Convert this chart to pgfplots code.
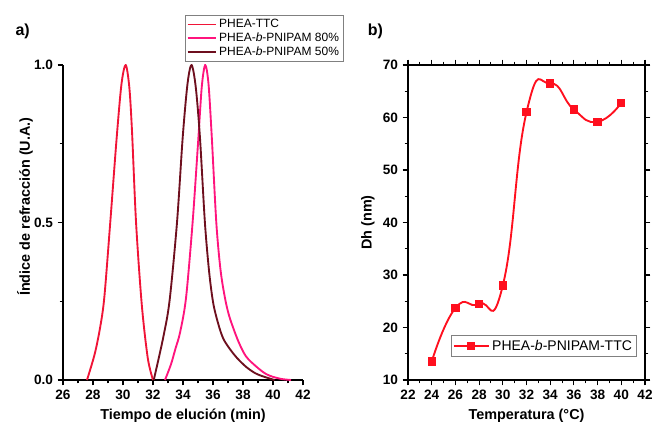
\documentclass[border=0pt]{standalone}
\usepackage{fontspec}
\setmainfont{Liberation Sans}
\usepackage{pgfplots}
\pgfplotsset{compat=1.18}
\definecolor{cttc}{RGB}{240,20,55}
\definecolor{cpe}{RGB}{255,20,125}
\definecolor{cpf}{RGB}{110,15,30}
\definecolor{cred}{RGB}{255,15,30}
\begin{document}
\begin{tikzpicture}
\path[use as bounding box] (0pt,0pt) rectangle (491.25pt,318.75pt);
\pgfplotsset{
  common/.style={
    scale only axis,
    height=236.25pt,
    tick align=outside,
    axis line style={line width=1pt},
    tick style={black, line width=0.8pt},
    major tick length=4pt, minor tick length=2.5pt,
    /pgf/number format/assume math mode=true,
    ticklabel style={font=\fontsize{10.2}{12}\selectfont\bfseries},
    label style={font=\fontsize{10.8}{12}\selectfont\bfseries},
    legend cell align=left,
  }
}
\begin{axis}[common,
  at={(47.25pt,33.75pt)}, anchor=south west,
  width=180pt,
  xmin=26, xmax=42, ymin=0, ymax=1,
  axis x line*=bottom, axis y line*=left,
  xtick={26,28,...,42}, minor x tick num=1,
  ytick={0,0.5,1}, minor y tick num=1,
  yticklabel style={/pgf/number format/.cd, fixed, fixed zerofill, precision=1},
  xlabel={Tiempo de elución (min)},
  ylabel={Índice de refracción (U.A.)},
  ylabel style={at={(axis description cs:-0.158,0.55)}, anchor=center},
  legend style={at={(0.508,1.159)}, anchor=north west, draw=gray, line width=0.5pt,
    font=\fontsize{9}{10}\selectfont, inner sep=1pt, row sep=-1.5pt},
  legend image code/.code={\draw[#1, line width=1.4pt] (0pt,0pt) -- (21pt,0pt);},
]
\addplot[cttc, line width=1.4pt, smooth] coordinates {
(27.6,0) (28.1,0.08) (28.45,0.16) (28.75,0.26) (29.15,0.50) (29.58,0.77) (29.9,0.94) (30.18,1.0)
(30.42,0.93) (30.6,0.79) (30.87,0.50) (31.25,0.24) (31.65,0.07) (32.0,0)
};
\addlegendentry{PHEA-TTC}
\addplot[cpe, line width=1.4pt, smooth] coordinates {
(32.8,0) (33.2,0.05) (33.5,0.10) (33.8,0.15) (34.2,0.26) (34.64,0.50) (35.0,0.75) (35.25,0.93) (35.48,1.0)
(35.7,0.94) (35.92,0.77) (36.22,0.50) (36.5,0.35) (36.8,0.26) (37.1,0.20) (37.67,0.125)
(38.2,0.075) (38.9,0.042) (39.5,0.02) (40.0,0.01) (40.6,0.003) (41.2,0)
};
\addlegendentry{PHEA-\textit{b}-PNIPAM 80\%}
\addplot[cpf, line width=1.4pt, smooth] coordinates {
(32.05,0) (32.66,0.13) (33.1,0.25) (33.6,0.50) (33.98,0.77) (34.3,0.94) (34.57,1.0)
(34.85,0.93) (35.13,0.77) (35.46,0.50) (35.75,0.34) (36.03,0.24) (36.4,0.17) (36.7,0.13)
(37.1,0.10) (37.6,0.07) (38.2,0.042) (38.8,0.022) (39.3,0.012) (40.1,0)
};
\addlegendentry{PHEA-\textit{b}-PNIPAM 50\%}
\end{axis}
\node[font=\fontsize{12}{14}\selectfont\bfseries] at (17pt,295.5pt) {a)};
\begin{axis}[common,
  at={(306pt,33.75pt)}, anchor=south west,
  width=177.75pt,
  xmin=22, xmax=42, ymin=10, ymax=70,
  xtick={22,24,...,42}, minor x tick num=1,
  ytick={10,20,...,70}, minor y tick num=1,
  xlabel={Temperatura (°C)},
  ylabel={Dh (nm)},
  ylabel style={at={(axis description cs:-0.169,0.5)}, anchor=center},
  legend style={at={(0.966,0.073)}, anchor=south east, draw=gray, line width=0.5pt,
    font=\fontsize{10.5}{12}\selectfont, inner sep=1.5pt},
  legend image code/.code={\draw[#1,mark repeat=2,mark phase=2] plot coordinates {(0pt,0pt) (13pt,0pt) (26pt,0pt)};},
]
\addplot[cred, line width=1.4pt, smooth, tension=0.9, mark=square*, mark size=2.4pt, mark options={solid}] coordinates {
(24,13.5) (26,23.7) (28,24.5) (30,28.0) (32,61.0) (34,66.5) (36,61.5) (38,59.2) (40,62.8)
};
\addlegendentry{PHEA-\textit{b}-PNIPAM-TTC}
\end{axis}
\node[font=\fontsize{12}{14}\selectfont\bfseries] at (281.5pt,295.5pt) {b)};
\end{tikzpicture}
\end{document}
